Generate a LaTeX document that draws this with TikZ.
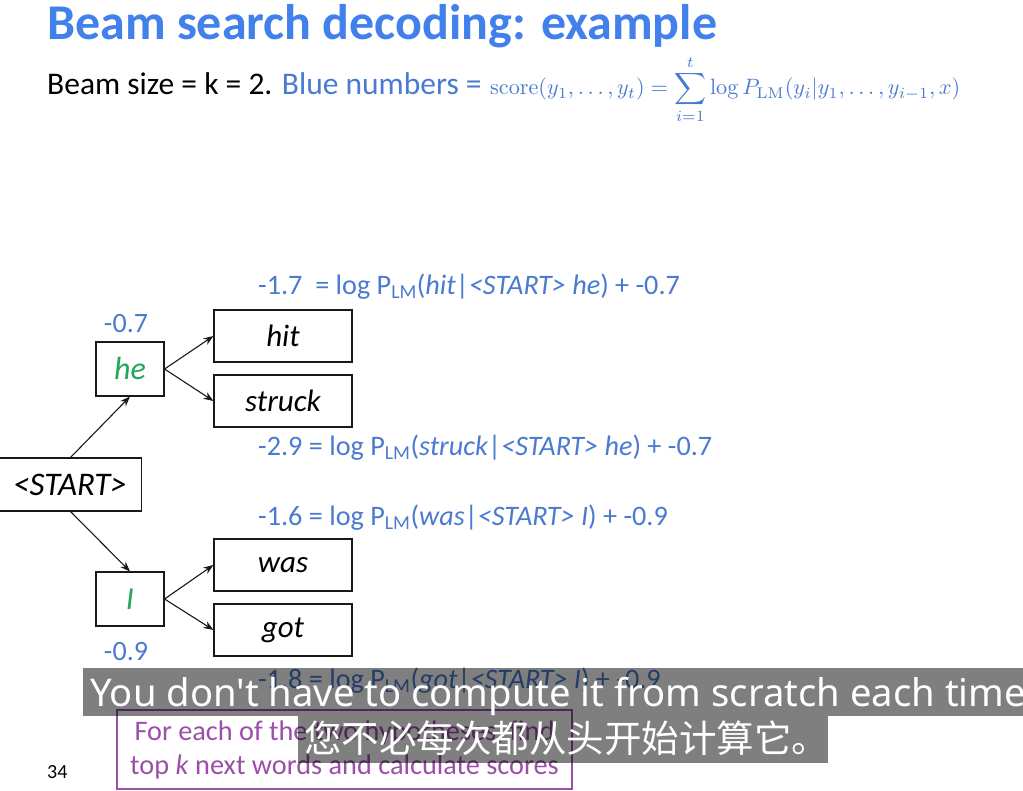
\documentclass[tikz,border=0pt]{standalone}
\usepackage[no-math]{fontspec}
\setmainfont{Carlito}
\newfontfamily\subfont{Noto Sans}
\newfontfamily\cjk{Noto Sans CJK SC}
\usetikzlibrary{arrows.meta}
\definecolor{titleblue}{RGB}{66,128,235}
\definecolor{lblue}{RGB}{74,123,208}
\definecolor{wgreen}{RGB}{34,168,90}
\definecolor{purp}{RGB}{156,79,168}
\newcommand{\LM}{\textsubscript{LM}}
\tikzset{
  wordbox/.style={draw=black!90, line width=1.1pt, inner sep=0pt, minimum width=138pt, minimum height=52pt, font=\fontsize{31}{33}\selectfont\itshape},
  smallbox/.style={draw=black!90, line width=1.1pt, inner sep=0pt, minimum width=68pt, minimum height=54pt, font=\fontsize{32}{34}\selectfont\itshape, text=wgreen},
  lbl/.style={anchor=west, inner sep=0pt, text=lblue, font=\fontsize{28.2}{30}\selectfont},
  score/.style={inner sep=0pt, text=lblue, font=\fontsize{28}{30}\selectfont},
  arr/.style={-{Stealth[length=10pt,width=7.5pt]}, line width=1.1pt, black!90},
  subbox/.style={fill=black, opacity=0.5, draw=none},
}
\begin{document}
\begin{tikzpicture}[x=1pt,y=-1pt]
\useasboundingbox (0,0) rectangle (1023,791);
\clip (0,0) rectangle (1023,791);
\fill[white] (0,0) rectangle (1023,791);
% title
\node[anchor=base west, inner sep=0pt, text=titleblue, font=\fontsize{50}{52}\selectfont\bfseries] (title) at (47,40) {Beam search decoding: example};
\node[anchor=base west, inner sep=0pt, font=\fontsize{31.5}{33}\selectfont] (beam) at (47,95) {Beam size = k = 2. \textcolor{lblue}{Blue numbers =}};
\node[anchor=base west, inner sep=0pt, text=lblue] (formula) at (490,95) {\resizebox{470pt}{!}{$\displaystyle \mathrm{score}(y_1,\ldots,y_t)=\sum_{i=1}^{t}\log P_{\mathrm{LM}}(y_i|y_1,\ldots,y_{i-1},x)$}};
% nodes
\node[draw=black!90, line width=1.1pt, inner sep=0pt, minimum width=143pt, minimum height=53pt, font=\fontsize{33}{35}\selectfont\itshape] (start) at (70,484.5) {<START>};
\node[smallbox] (he) at (130,369) {he};
\node[smallbox] (I) at (130,599) {I};
\node[wordbox] (hit) at (283,336) {hit};
\node[wordbox] (struck) at (283,401) {struck};
\node[wordbox] (was) at (283,565) {was};
\node[wordbox] (got) at (283,630) {got};
% scores
\node[score] (she) at (126,324) {-0.7};
\node[score] (sI) at (126,652) {-0.9};
\node[lbl] (lhit) at (258,287) {-1.7\ \ = log P\LM(\textit{hit}|\textit{<START> he}) + -0.7};
\node[lbl] (lstruck) at (258,448) {-2.9 = log P\LM(\textit{struck}|\textit{<START> he}) + -0.7};
\node[lbl] (lwas) at (258,518) {-1.6 = log P\LM(\textit{was}|\textit{<START> I}) + -0.9};
\node[lbl] (lgot) at (258,681) {-1.8 = log P\LM(\textit{got}|\textit{<START> I}) + -0.9};
% arrows
\draw[arr] (70,458) -- (he.south);
\draw[arr] (70,511) -- (I.north);
\draw[arr] (he.east) -- (hit.west);
\draw[arr] (he.east) -- (struck.west);
\draw[arr] (I.east) -- (was.west);
\draw[arr] (I.east) -- (got.west);
% purple note
\node[draw=purp, line width=1.3pt, minimum width=455pt, minimum height=79pt, inner sep=0pt, text=purp, align=center, font=\fontsize{28.3}{34}\selectfont] (note) at (344.5,749.5) {For each of the two hypotheses, find\\top \textit{k} next words and calculate scores};
\node[anchor=base west, inner sep=0pt, font=\fontsize{20}{22}\selectfont] (pnum) at (47,778) {34};
% subtitles
\fill[subbox] (83,668) rectangle (1023,716);
\fill[subbox] (298,716) rectangle (828,763);
\node[anchor=base west, inner sep=0pt, text=white, font=\subfont\fontsize{38.2}{40}\selectfont] (sub1) at (90,706) {You don't have to compute it from scratch each time};
\node[anchor=base west, inner sep=0pt, text=white, font=\cjk\fontsize{37.5}{39}\selectfont] (sub2) at (304,752) {您不必每次都从头开始计算它。};
\end{tikzpicture}
\end{document}
